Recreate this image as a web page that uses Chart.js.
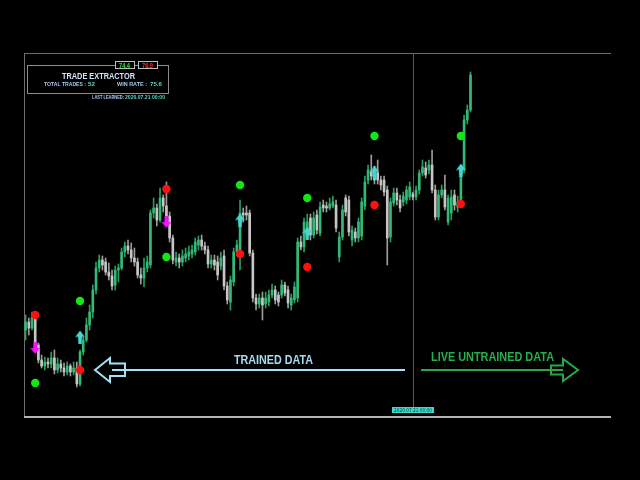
<!DOCTYPE html>
<html>
<head>
<meta charset="utf-8">
<script src="https://cdn.jsdelivr.net/npm/chart.js@4.4.1/dist/chart.umd.min.js"></script>
<style>
  html, body { margin: 0; padding: 0; background: #000; }
  canvas { display: block; }
</style>
</head>
<body>
<canvas id="chart" width="640" height="480"></canvas>
<script>
// candle values (price in points above the chart floor)
const opens = [85,93,87,97,70,55,49,53,51,57, 45,51,47,43,49,43,47,31,63,75,
  90,103,125,147,155,153,143,139,130,145, 147,163,169,165,157,153,140,137,147,150,
  202,207,195,217,209,199,177,153,157,153, 157,159,161,163,170,175,169,165,151,155,
  153,149,159,129,113,133,163,165,202,202, 202,162,117,111,117,111,113,120,125,120,
  120,130,125,110,115,117,173,168,180,197, 180,200,182,210,209,207,209,210,158,178,
  217,215,175,183,177,179,209,235,243,240, 242,235,235,225,178,212,222,215,213,215,
  218,221,218,225,242,247,245,250,225,198, 220,225,193,202,220,208,212,245,295,305];
const highs = [100,97,103,103,72,60,58,57,63,65, 57,55,52,53,51,53,53,65,78,97,
  110,130,153,160,159,157,152,145,149,151, 167,173,175,172,167,157,147,157,159,205,
  217,211,227,220,233,203,180,163,161,165, 167,169,170,177,179,180,173,169,160,160,
  159,163,165,133,139,167,175,215,207,209, 205,165,121,121,123,123,125,131,129,123,
  135,133,129,121,133,177,179,197,201,201, 203,205,213,215,213,217,219,215,183,210,
  220,219,189,187,197,217,239,250,260,249, 255,239,239,229,217,227,227,220,223,229,
  233,223,229,245,255,253,255,265,230,225, 230,240,220,225,225,219,250,300,310,343];
const lows = [75,80,85,67,52,47,45,47,47,41, 42,43,39,40,39,40,28,29,60,73,
  85,97,121,143,145,140,135,125,125,133, 145,158,161,153,149,137,131,128,143,147,
  197,189,193,203,195,173,151,149,147,149, 153,155,157,160,165,165,161,147,147,145,
  135,145,125,111,105,129,159,145,193,195, 159,113,105,107,95,107,109,117,111,109,
  117,119,107,105,112,113,165,163,177,175, 177,181,179,203,203,205,207,183,153,175,
  199,179,169,173,173,175,205,231,235,231, 231,225,219,150,173,209,210,203,209,211,
  215,215,215,221,239,237,241,222,195,195, 217,205,190,195,205,203,209,242,291,303];
const closes = [93,87,97,70,55,49,53,51,57,45, 51,47,43,49,43,47,31,63,75,90,
  103,125,147,155,150,143,139,129,145,147, 163,169,165,157,153,140,137,147,153,202,
  207,195,217,209,199,177,155,157,153,159, 161,163,165,173,175,169,165,151,155,150,
  140,157,129,115,135,163,170,202,200,200, 162,117,111,117,110,117,120,125,115,113,
  130,122,112,117,128,173,168,193,193,180, 197,185,208,207,207,211,213,187,178,205,
  203,183,185,177,193,213,233,245,239,235, 235,230,223,177,213,222,215,207,219,225,
  228,218,225,242,248,240,250,225,198,220, 225,208,217,218,210,213,245,295,305,340];

// signals: bar index and level
const signalBars = [3, 17, 44, 67, 88, 109, 136];
const stopLevels = [100, 45, 226, 161, 148, 210, 211];
const targetLevels = [32, 114, 158, 230, 217, 279, 279];
const buyBars = [17, 67, 88, 109, 136];
const buyLevels = [78, 195, 182, 243, 245];
const sellBars = [3, 44];
const sellLevels = [67, 193];

const splitBar = 121;
const splitLabel = "2020.07.21 00:00";
const accHigh = "74.4";
const accLow = "76.9";
const totalTrades = "52";
const winRate = "75.6";

const UP = "#34b875", DOWN = "#c6c6c6";

function arrowIcon(color, w, h, down) {
  const cv = document.createElement("canvas");
  cv.width = w; cv.height = h;
  const c = cv.getContext("2d");
  if (down) { c.translate(0, h); c.scale(1, -1); }
  c.fillStyle = color;
  c.beginPath();
  c.moveTo(w / 2, 0);
  c.lineTo(w, h * 0.52);
  c.lineTo(w * 0.7, h * 0.48);
  c.lineTo(w * 0.66, h);
  c.lineTo(w * 0.34, h);
  c.lineTo(w * 0.3, h * 0.48);
  c.lineTo(0, h * 0.52);
  c.closePath();
  c.fill();
  return cv;
}

function fitText(c, text, x, y, w, font, color) {
  c.save();
  c.font = font;
  c.fillStyle = color;
  c.textAlign = "left";
  c.textBaseline = "alphabetic";
  const m = c.measureText(text).width;
  c.translate(x, y);
  c.scale(w / m, 1);
  c.fillText(text, 0, 0);
  c.restore();
}

const overlay = {
  id: "overlay",
  beforeDraw(chart) {
    const c = chart.ctx;
    c.save();
    c.fillStyle = "#000";
    c.fillRect(0, 0, chart.width, chart.height);
    c.restore();
  },
  beforeDatasetsDraw(chart) {
    const c = chart.ctx;
    const a = chart.chartArea;
    const sx = Math.round(chart.scales.x.getPixelForValue(splitBar)) + 0.5;
    c.save();
    c.lineWidth = 1;
    c.strokeStyle = "#6e6e6e";
    c.beginPath();
    c.moveTo(a.left + 0.5, a.top);
    c.lineTo(a.left + 0.5, a.bottom + 1);
    c.moveTo(a.left, a.top + 0.5);
    c.lineTo(a.right, a.top + 0.5);
    c.stroke();
    c.fillStyle = "#b4b4b4";
    c.fillRect(a.left, a.bottom + 1, a.right - a.left, 2);
    c.strokeStyle = "#2b6e62";
    c.beginPath();
    c.moveTo(sx, a.top);
    c.lineTo(sx, a.bottom - 8);
    c.stroke();
    c.restore();
  },
  afterDraw(chart) {
    const c = chart.ctx;
    const a = chart.chartArea;
    const sx = chart.scales.x.getPixelForValue(splitBar);
    c.save();
    // info panel
    c.lineWidth = 1;
    c.strokeStyle = "#8c8c8c";
    c.strokeRect(27.5, 65.5, 141, 28);
    c.strokeStyle = "#bdbdbd";
    c.strokeRect(115.5, 61.5, 19, 7);
    c.strokeRect(138.5, 61.5, 19, 7);
    c.fillStyle = "#000";
    c.fillRect(116, 62, 18, 6);
    c.fillRect(139, 62, 18, 6);
    fitText(c, accHigh, 119, 67.5, 11, "bold 7px 'Liberation Sans'", "#22ee22");
    fitText(c, accLow, 142, 67.5, 11, "bold 7px 'Liberation Sans'", "#ff2a2a");
    fitText(c, "TRADE EXTRACTOR", 62, 79, 73, "bold 9px 'Liberation Sans'", "#d2e4f8");
    fitText(c, "TOTAL TRADES :", 44, 86, 42, "bold 6px 'Liberation Sans'", "#a8c8ee");
    fitText(c, totalTrades, 88, 86, 7, "bold 6px 'Liberation Sans'", "#56d8c6");
    fitText(c, "WIN RATE :", 117, 86, 30, "bold 6px 'Liberation Sans'", "#a8c8ee");
    fitText(c, winRate, 150, 86, 12, "bold 6px 'Liberation Sans'", "#56d8c6");
    fitText(c, "LAST LEARNED:", 92, 99, 32, "bold 5px 'Liberation Sans'", "#a8c8ee");
    fitText(c, splitLabel, 125, 99, 40, "bold 5px 'Liberation Sans'", "#56d8c6");

    // split date tag
    c.fillStyle = "#3fd6cc";
    c.fillRect(Math.round(sx) - 21, a.bottom - 8, 42, 6);
    fitText(c, splitLabel, Math.round(sx) - 19, a.bottom - 3, 38, "5px 'DejaVu Sans'", "#06403c");

    // trained / live arrows
    c.lineWidth = 2;
    c.strokeStyle = "#a6e0f6";
    c.beginPath();
    c.moveTo(112, 370); c.lineTo(405, 370);
    c.stroke();
    c.beginPath();
    c.moveTo(95, 370); c.lineTo(110, 358); c.lineTo(110, 363.5); c.lineTo(125, 363.5);
    c.lineTo(125, 376); c.lineTo(110, 376); c.lineTo(110, 382);
    c.closePath();
    c.stroke();
    fitText(c, "TRAINED DATA", 234, 364, 79, "bold 12px 'Liberation Sans'", "#a6daf2");

    c.strokeStyle = "#24aa48";
    c.beginPath();
    c.moveTo(421, 370); c.lineTo(563, 370);
    c.stroke();
    c.beginPath();
    c.moveTo(551, 365.5); c.lineTo(563, 365.5); c.lineTo(563, 359); c.lineTo(578, 370);
    c.lineTo(563, 381); c.lineTo(563, 374.5); c.lineTo(551, 374.5);
    c.closePath();
    c.stroke();
    fitText(c, "LIVE UNTRAINED DATA", 431, 361, 123, "bold 12px 'Liberation Sans'", "#26b04a");
    c.restore();
  }
};

const wickData = highs.map((h, i) => ({ x: i, y: [lows[i], h] }));
const bodyData = opens.map((o, i) => ({ x: i, y: [o, closes[i]] }));
const isUp = closes.map((cl, i) => cl >= opens[i]);

new Chart(document.getElementById("chart"), {
  type: "bar",
  data: {
    datasets: [
      {
        type: "scatter",
        data: signalBars.map((b, i) => ({ x: b, y: stopLevels[i] })),
        pointRadius: 4.2,
        pointBackgroundColor: "#ff1010",
        pointBorderWidth: 0,
        order: 1,
      },
      {
        type: "scatter",
        data: signalBars.map((b, i) => ({ x: b, y: targetLevels[i] })),
        pointRadius: 4.2,
        pointBackgroundColor: "#14e614",
        pointBorderWidth: 0,
        order: 1,
      },
      {
        type: "scatter",
        data: buyBars.map((b, i) => ({ x: b, y: buyLevels[i] })),
        pointStyle: arrowIcon("#45d6d0", 10, 13, false),
        order: 1,
      },
      {
        type: "scatter",
        data: sellBars.map((b, i) => ({ x: b, y: sellLevels[i] })),
        pointStyle: arrowIcon("#ff10ff", 10, 12, true),
        order: 1,
      },
      {
        data: wickData,
        backgroundColor: isUp.map((u) => (u ? "#2a9c60" : "#9c9c9c")),
        barThickness: 1,
        grouped: false,
        order: 3,
      },
      {
        data: bodyData,
        backgroundColor: isUp.map((u) => (u ? UP : DOWN)),
        barThickness: 2,
        minBarLength: 1,
        grouped: false,
        order: 2,
      },
    ],
  },
  options: {
    responsive: false,
    animation: false,
    devicePixelRatio: 1,
    layout: { padding: { left: 24, right: 29, top: 53, bottom: 65 } },
    plugins: { legend: { display: false }, tooltip: { enabled: false } },
    scales: {
      x: { type: "linear", min: -0.5, max: 182.9, offset: false, display: false },
      y: { min: 0, max: 362, display: false },
    },
  },
  plugins: [overlay],
});
</script>
</body>
</html>
